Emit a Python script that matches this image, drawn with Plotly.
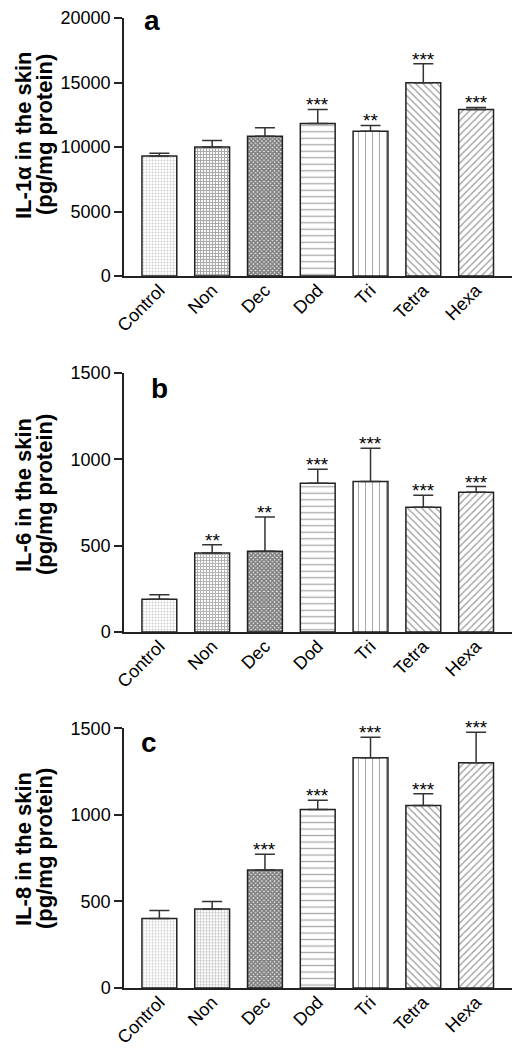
import plotly.graph_objects as go

W, H = 525, 1050

categories = ["Control", "Non", "Dec", "Dod", "Tri", "Tetra", "Hexa"]

il1a = [9310, 10000, 10840, 11820, 11230, 14980, 12910]
il1a_err = [210, 500, 650, 1090, 440, 1480, 160]
il1a_sig = ["", "", "", "***", "**", "***", "***"]

il6 = [189, 457, 467, 861, 871, 722, 809]
il6_err = [27, 49, 199, 81, 193, 70, 33]
il6_sig = ["", "**", "**", "***", "***", "***", "***"]

il8 = [401, 457, 681, 1031, 1330, 1054, 1301]
il8_err = [47, 43, 91, 54, 118, 68, 176]
il8_sig = ["", "", "***", "***", "***", "***", "***"]

y_titles = [("IL-1α in the skin", "(pg/mg protein)"),
            ("IL-6 in the skin", "(pg/mg protein)"),
            ("IL-8 in the skin", "(pg/mg protein)")]
letters = ["a", "b", "c"]
y_ranges = [[0, 20000], [0, 1500], [0, 1500]]
y_dtick = [5000, 500, 500]

FONT = "Arial, Liberation Sans, sans-serif"

def px_x(p):
    return p / W

def px_y(p):
    return 1 - p / H

# panel geometry (page pixels): (zero line y, top y)
panels = [(276, 18), (632, 373), (988, 728.3)]
x_left, x_right = 124, 512
title_centers = [135, 495, 849]
letter_pos = [(152, 20), (159, 389), (149, 742)]

pattern_shapes = [".", "+", "x", "-", "|", "\\", "/"]
pattern_size = [3, 3, 3, 6.5, 7, 5, 5]
pattern_fg = [
    ["#9a9a9a", "#555555", "#000000", "#555555", "#555555", "#333333", "#333333"],
    ["#9a9a9a", "#666666", "#000000", "#555555", "#555555", "#333333", "#333333"],
    ["#9a9a9a", "#8a8a8a", "#000000", "#555555", "#555555", "#333333", "#333333"],
]
pattern_sol = [
    [0.3, 0.6, 0.8, 0.2, 0.15, 0.25, 0.25],
    [0.3, 0.55, 0.8, 0.2, 0.15, 0.25, 0.25],
    [0.3, 0.4, 0.8, 0.2, 0.15, 0.25, 0.25],
]

datasets = [(il1a, il1a_err, il1a_sig), (il6, il6_err, il6_sig), (il8, il8_err, il8_sig)]

fig = go.Figure()
annotations = []
layout = {}
for i, (vals, errs, sigs) in enumerate(datasets):
    n = "" if i == 0 else str(i + 1)
    xa, ya = "x" + n, "y" + n
    fig.add_trace(go.Bar(
        x=categories, y=vals, xaxis=xa, yaxis=ya, width=0.66,
        marker=dict(color="white",
                    line=dict(color="#222222", width=1.5),
                    pattern=dict(shape=pattern_shapes, fgcolor=pattern_fg[i],
                                 bgcolor="white", size=pattern_size,
                                 solidity=pattern_sol[i], fillmode="overlay")),
        error_y=dict(type="data", symmetric=False, array=errs,
                     arrayminus=[0] * len(errs), color="#333333",
                     thickness=1.5, width=10),
        showlegend=False))
    zero, top = panels[i]
    layout["xaxis" + n] = dict(
        domain=[px_x(x_left), px_x(x_right)], anchor=ya, automargin=False,
        range=[-0.67, 6.68], showline=True, linecolor="#222222", linewidth=1.5,
        ticks="", tickangle=-45, ticklabelstandoff=-5, showgrid=False, zeroline=False,
        tickfont=dict(family=FONT, size=18, color="black"))
    layout["yaxis" + n] = dict(
        domain=[px_y(zero), px_y(top)], anchor=xa, automargin=False,
        range=y_ranges[i], dtick=y_dtick[i], tickformat="d", showline=True,
        linecolor="#222222", linewidth=1.5, ticks="outside", ticklen=8,
        tickwidth=1.5, tickcolor="#222222", showgrid=False, zeroline=False,
        tickfont=dict(family=FONT, size=18, color="black"))
    for c, v, e, s in zip(categories, vals, errs, sigs):
        if s:
            annotations.append(dict(x=c, y=v + e, xref=xa, yref=ya, text=s,
                                    showarrow=False, yanchor="bottom", yshift=-8,
                                    font=dict(family=FONT, size=19, color="black")))
    l1, l2 = y_titles[i]
    cy = title_centers[i]
    annotations.append(dict(x=px_x(23), y=px_y(cy), xref="paper", yref="paper",
                            text="<b>" + l1 + "</b>", textangle=-90, showarrow=False,
                            xanchor="center", yanchor="middle",
                            font=dict(family=FONT, size=22, color="black")))
    annotations.append(dict(x=px_x(44), y=px_y(cy), xref="paper", yref="paper",
                            text="<b>" + l2 + "</b>", textangle=-90, showarrow=False,
                            xanchor="center", yanchor="middle",
                            font=dict(family=FONT, size=22, color="black")))
    lx, ly = letter_pos[i]
    annotations.append(dict(x=px_x(lx), y=px_y(ly), xref="paper", yref="paper",
                            text="<b>" + letters[i] + "</b>", showarrow=False,
                            xanchor="center", yanchor="middle",
                            font=dict(family=FONT, size=28, color="black")))

fig.update_layout(width=W, height=H, margin=dict(l=0, r=0, t=0, b=0, autoexpand=False),
                  plot_bgcolor="white", paper_bgcolor="white", showlegend=False,
                  bargap=0.34, annotations=annotations, **layout)

# remove the browser's default page margin so the figure fills the window exactly
fig.write_html("out.html", config={"displayModeBar": False},
               post_script="document.body.style.margin='0';")
